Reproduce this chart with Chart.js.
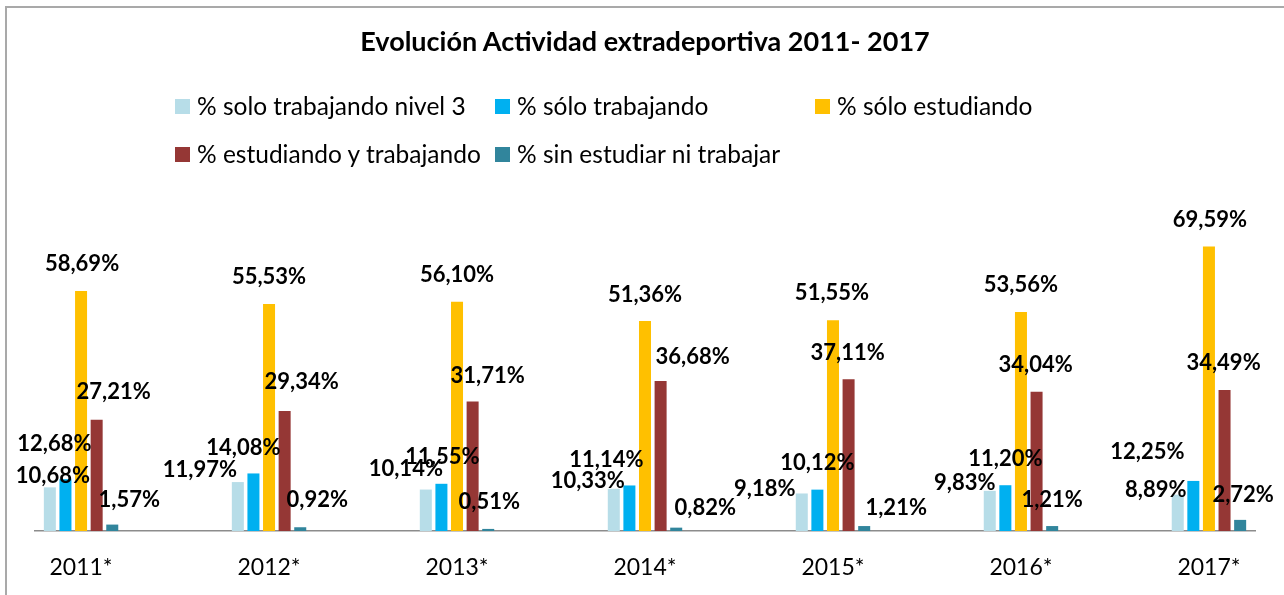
<!DOCTYPE html>
<html>
<head>
<meta charset="utf-8">
<script src="https://cdn.jsdelivr.net/npm/chart.js@4.4.0/dist/chart.umd.min.js"></script>
<style>
  html, body { margin: 0; padding: 0; background: #fff; }
  body { width: 1284px; height: 595px; position: relative; overflow: hidden; font-family: Lato, "Open Sans", sans-serif; }
  #frame { position: absolute; left: 5px; top: 6px; width: 1400px; height: 700px; border-top: 2px solid #a9a9a9; border-left: 2px solid #a9a9a9; }
  #chartBox { position: absolute; left: 0; top: 0; width: 1284px; height: 595px; }
  #title { position: absolute; left: 0; top: 25px; width: 1290px; text-align: center; font-weight: bold; font-size: 27px; line-height: 32px; color: #000; }
  .lg { position: absolute; height: 26px; line-height: 26px; font-size: 24.5px; color: #000; white-space: nowrap; }
  .lg i { position: absolute; left: 0; top: 5px; width: 15px; height: 15px; }
  .lg span { position: absolute; left: 22px; top: -1px; }
</style>
</head>
<body>
<div id="frame"></div>
<div id="chartBox"><canvas id="chart" width="1284" height="595"></canvas></div>
<div id="title">Evolución Actividad extradeportiva 2011- 2017</div>
<div id="legend"></div>
<script>
const years = ['2011*', '2012*', '2013*', '2014*', '2015*', '2016*', '2017*'];
const seriesNames = ['% solo trabajando nivel 3', '% sólo trabajando', '% sólo estudiando', '% estudiando y trabajando', '% sin estudiar ni trabajar'];
const soloTrabajandoN3 = [10.68, 11.97, 10.14, 10.33, 9.18, 9.83, 8.89];
const soloTrabajando   = [12.68, 14.08, 11.55, 11.14, 10.12, 11.20, 12.25];
const soloEstudiando   = [58.69, 55.53, 56.10, 51.36, 51.55, 53.56, 69.59];
const estudiaTrabaja   = [27.21, 29.34, 31.71, 36.68, 37.11, 34.04, 34.49];
const ninguno          = [1.57, 0.92, 0.51, 0.82, 1.21, 1.21, 2.72];
const colors = ['#B7DDE8', '#00B0F0', '#FFC000', '#953735', '#31859C'];

// where each data label sits relative to the top of its bar (dx, dy), per series per year
const labelShift = [
  [[3,-11],[-38,-12],[-20,-21],[-26,-8],[-37,-5],[-25,-8],[-22,-5]],
  [[-11,-35],[-10,-26],[1,-27],[-23,-26],[0,-27],[0,-26],[-46,-29]],
  [[1,-27],[0,-27],[0,-27],[0,-26],[-1,-27],[0,-27],[1,-27]],
  [[17,-28],[17,-29],[15,-25],[32,-24],[-1,-26],[-1,-27],[-1,-27]],
  [[17,-25],[17,-27],[1,-27],[29,-20],[32,-18],[0,-26],[3,-25]]
];

const allSeries = [soloTrabajandoN3, soloTrabajando, soloEstudiando, estudiaTrabaja, ninguno];

// legend, laid out in a 3 column grid
const legendEl = document.getElementById('legend');
seriesNames.forEach((name, i) => {
  const d = document.createElement('div');
  d.className = 'lg';
  d.style.left = (175 + (i % 3) * 320) + 'px';
  d.style.top = (94 + Math.floor(i / 3) * 48) + 'px';
  d.innerHTML = `<i style="background:${colors[i]}"></i><span>${name}</span>`;
  legendEl.appendChild(d);
});

const fmt = v => v.toFixed(2).replace('.', ',') + '%';

const labelPlugin = {
  id: 'barLabels',
  afterDatasetsDraw(chart) {
    const ctx = chart.ctx;
    ctx.save();
    ctx.font = 'bold 22px Lato, "Open Sans", sans-serif';
    ctx.fillStyle = '#000';
    ctx.textAlign = 'center';
    ctx.textBaseline = 'middle';
    chart.data.datasets.forEach((ds, si) => {
      chart.getDatasetMeta(si).data.forEach((bar, i) => {
        const s = labelShift[si][i];
        ctx.fillText(fmt(ds.data[i].y), bar.x + s[0], bar.y + s[1]);
      });
    });
    ctx.restore();
  }
};

new Chart(document.getElementById('chart').getContext('2d'), {
  type: 'bar',
  data: {
    datasets: allSeries.map((vals, si) => ({
      label: seriesNames[si],
      data: vals.map((v, i) => ({ x: i, y: v })),
      backgroundColor: colors[si],
      borderWidth: 0,
      categoryPercentage: 0.415,
      barPercentage: 0.77
    }))
  },
  options: {
    responsive: false,
    animation: false,
    layout: { padding: { left: 35, right: 29, top: 204, bottom: 0 } },
    plugins: { legend: { display: false }, tooltip: { enabled: false } },
    scales: {
      x: {
        type: 'linear',
        offset: false,
        min: -0.245,
        max: 6.245,
        grid: { display: false, offset: false },
        border: { display: true, color: '#8c8c8c', width: 1.5 },
        afterBuildTicks: s => { s.ticks = years.map((y, i) => ({ value: i })); },
        afterFit: s => { s.height = 64; },
        ticks: {
          padding: 15,
          color: '#000',
          font: { family: 'Lato, "Open Sans", sans-serif', size: 23 },
          callback: v => years[v]
        }
      },
      y: { display: false, min: 0, max: 80 }
    }
  },
  plugins: [labelPlugin]
});
</script>
</body>
</html>
